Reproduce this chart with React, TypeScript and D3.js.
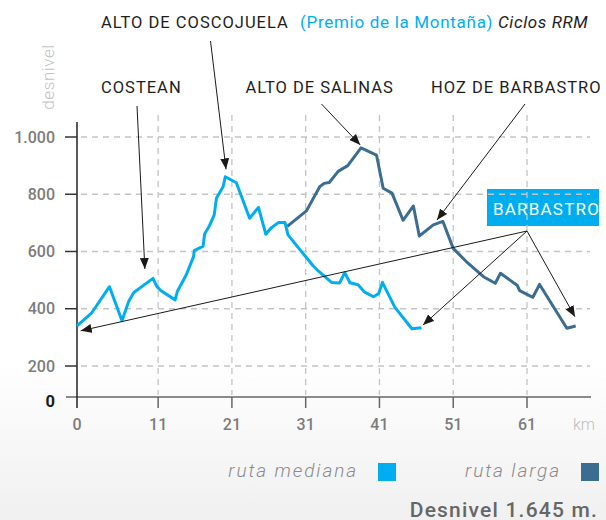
import React, { useEffect, useRef } from 'react';
import * as d3 from 'd3';

// ruta mediana: km / desnivel (m)
const kmMediana = [0, 2, 4.4, 6.1, 7, 7.7, 10.3, 10.8, 11.3, 13.3, 13.6, 14.8, 15.8, 15.9, 17.1, 17.3, 17.9, 18.6, 18.9, 19.8, 20.1, 21.6, 23.4, 24.6, 25.6, 26.3, 27.3, 28.2, 28.6, 32, 32.7, 34.5, 35.6, 36.3, 37, 38.1, 39, 40.2, 40.9, 41.4, 43.1, 45.4, 46.7];
const altMediana = [340, 386, 477, 358, 425, 457, 506, 479, 465, 431, 460, 518, 582, 603, 619, 661, 687, 728, 786, 826, 861, 840, 716, 754, 660, 682, 701, 701, 658, 550, 532, 492, 490, 526, 491, 484, 458, 442, 453, 492, 405, 330, 334];

// ruta larga (branches off the mediana around km 28.5)
const kmLarga = [28.5, 31.1, 32.9, 33.5, 34.2, 35.4, 36.7, 38.5, 40.6, 41.5, 42.7, 44.2, 45.6, 46.4, 48.3, 49.6, 51, 52.8, 55.1, 56.7, 57.4, 59.7, 60, 61.8, 62.7, 66.4, 67.6];
const altLarga = [688, 742, 826, 838, 841, 880, 900, 962, 937, 821, 804, 709, 759, 654, 693, 705, 611, 564, 512, 489, 524, 481, 463, 440, 485, 332, 340];

const kmTicks = [0, 11, 21, 31, 41, 51, 61];
const altTicks = [200, 400, 600, 800, 1000];

// annotated places, arrow tips in km / m
const placeNames = ['COSTEAN', 'ALTO DE COSCOJUELA', 'ALTO DE SALINAS', 'HOZ DE BARBASTRO'];
const placeKm = [9.2, 20.2, 38.4, 48.8];
const placeAlt = [539, 887, 972, 710];

// BARBASTRO arrows: start, meta mediana, meta larga
const barbastroKm = [0.5, 46.9, 67.5];
const barbastroAlt = [323, 343, 372];

const CYAN = '#00aeef';
const DARK = '#3a6d8f';
const FONT = 'Roboto, "DejaVu Sans", sans-serif';

export default function App() {
  const svgRef = useRef<SVGSVGElement>(null);

  useEffect(() => {
    if (!svgRef.current) return;
    const svg = d3.select(svgRef.current);
    svg.selectAll('*').remove();

    const x = d3.scaleLinear().domain([0, 61]).range([77, 527]);
    // broken axis: the 0-200 band is squeezed
    const y = d3.scaleLinear().domain([0, 200, 1000]).range([397, 366, 137]);

    const defs = svg.append('defs');
    const grad = defs.append('linearGradient').attr('id', 'bg').attr('x1', 0).attr('y1', 0).attr('x2', 0).attr('y2', 1);
    grad.append('stop').attr('offset', '0.7').attr('stop-color', '#ffffff');
    grad.append('stop').attr('offset', '1').attr('stop-color', '#f0f0f0');
    defs.append('marker')
      .attr('id', 'arr')
      .attr('viewBox', '0 0 11 9')
      .attr('refX', 11)
      .attr('refY', 4.5)
      .attr('markerWidth', 11)
      .attr('markerHeight', 9)
      .attr('markerUnits', 'userSpaceOnUse')
      .attr('orient', 'auto')
      .append('path')
      .attr('d', 'M0,0L11,4.5L0,9Z')
      .attr('fill', '#1a1a1a');

    svg.append('rect').attr('width', 606).attr('height', 520).attr('fill', 'url(#bg)');

    // BARBASTRO box (grid shows through on top of it)
    svg.append('rect')
      .attr('x', 487).attr('y', 189).attr('width', 112).attr('height', 37)
      .attr('fill', CYAN);

    // grid
    const grid = svg.append('g')
      .attr('stroke', '#c4c4c4')
      .attr('stroke-width', 1.3)
      .attr('stroke-dasharray', '6,5');
    grid.selectAll('line.h')
      .data(altTicks)
      .join('line')
      .attr('class', 'h')
      .attr('x1', 81).attr('x2', 590)
      .attr('y1', d => y(d)).attr('y2', d => y(d));
    grid.selectAll('line.v')
      .data(kmTicks.slice(1))
      .join('line')
      .attr('class', 'v')
      .attr('x1', d => x(d)).attr('x2', d => x(d))
      .attr('y1', 115).attr('y2', 395);

    svg.append('text')
      .attr('x', 493).attr('y', 215)
      .attr('fill', '#fff')
      .attr('font-family', FONT)
      .attr('font-size', 17)
      .attr('font-weight', 400)
      .attr('letter-spacing', 1.2)
      .text('BARBASTRO');

    // axes
    svg.append('line')
      .attr('x1', 66).attr('x2', 591)
      .attr('y1', y(0)).attr('y2', y(0))
      .attr('stroke', '#666').attr('stroke-width', 1.5);
    svg.append('line')
      .attr('x1', x(0)).attr('x2', x(0))
      .attr('y1', 122).attr('y2', 408)
      .attr('stroke', '#222').attr('stroke-width', 1.5);

    svg.append('g')
      .selectAll('line')
      .data(altTicks)
      .join('line')
      .attr('x1', 65).attr('x2', x(0))
      .attr('y1', d => y(d)).attr('y2', d => y(d))
      .attr('stroke', '#333').attr('stroke-width', 1.5);
    svg.append('g')
      .selectAll('line')
      .data(kmTicks.slice(1))
      .join('line')
      .attr('x1', d => x(d)).attr('x2', d => x(d))
      .attr('y1', y(0)).attr('y2', y(0) + 11)
      .attr('stroke', '#666').attr('stroke-width', 1.5);

    svg.append('g')
      .selectAll('text')
      .data(altTicks)
      .join('text')
      .attr('x', 55)
      .attr('y', d => y(d) + 5.7)
      .attr('text-anchor', 'end')
      .attr('fill', '#7c7c7c')
      .attr('font-family', FONT)
      .attr('font-size', 16)
      .attr('font-weight', 500)
      .text(d => d3.format(',')(d).replace(',', '.'));
    svg.append('text')
      .attr('x', 55).attr('y', y(0) + 9.5)
      .attr('text-anchor', 'end')
      .attr('fill', '#1a1a1a')
      .attr('font-family', FONT)
      .attr('font-size', 16.5)
      .attr('font-weight', 700)
      .text('0');

    svg.append('g')
      .selectAll('text')
      .data(kmTicks)
      .join('text')
      .attr('x', d => x(d))
      .attr('y', 429.5)
      .attr('text-anchor', 'middle')
      .attr('fill', '#7c7c7c')
      .attr('font-family', FONT)
      .attr('font-size', 16)
      .attr('font-weight', 500)
      .text(d => d);
    svg.append('text')
      .attr('x', 584).attr('y', 430)
      .attr('text-anchor', 'middle')
      .attr('fill', '#bdbdbd')
      .attr('font-family', FONT)
      .attr('font-size', 16)
      .attr('font-weight', 300)
      .text('km');
    svg.append('text')
      .attr('transform', 'translate(54,77) rotate(-90)')
      .attr('text-anchor', 'middle')
      .attr('fill', '#c2c2c2')
      .attr('font-family', FONT)
      .attr('font-size', 17)
      .attr('font-weight', 300)
      .attr('letter-spacing', 0.6)
      .text('desnivel');

    // profiles
    const line = d3.line<[number, number]>()
      .x(d => x(d[0]))
      .y(d => y(d[1]));
    const mediana = kmMediana.map((k, i) => [k, altMediana[i]] as [number, number]);
    const larga = kmLarga.map((k, i) => [k, altLarga[i]] as [number, number]);

    svg.append('path')
      .datum(larga)
      .attr('fill', 'none')
      .attr('stroke', DARK)
      .attr('stroke-width', 3)
      .attr('stroke-linejoin', 'round')
      .attr('d', line);
    svg.append('path')
      .datum(mediana)
      .attr('fill', 'none')
      .attr('stroke', CYAN)
      .attr('stroke-width', 3)
      .attr('stroke-linejoin', 'round')
      .attr('d', line);

    // place labels + arrows
    const labelX = [101, 101, 245.5, 431];
    const labelY = [92.5, 27.5, 92.5, 92.5];
    const fromX = [137, 210.5, 321.5, 525];
    const fromY = [106, 41, 104, 104];

    const ann = svg.append('g');
    placeNames.forEach((name, i) => {
      ann.append('text')
        .attr('x', labelX[i]).attr('y', labelY[i])
        .attr('fill', '#1e1e1e')
        .attr('font-family', FONT)
        .attr('font-size', 16.5)
        .attr('font-weight', 400)
        .attr('letter-spacing', 1)
        .text(name);
      ann.append('line')
        .attr('x1', fromX[i]).attr('y1', fromY[i])
        .attr('x2', x(placeKm[i])).attr('y2', y(placeAlt[i]))
        .attr('stroke', '#1a1a1a').attr('stroke-width', 1)
        .attr('marker-end', 'url(#arr)');
    });
    barbastroKm.forEach((k, i) => {
      ann.append('line')
        .attr('x1', 527).attr('y1', 231)
        .attr('x2', x(k)).attr('y2', y(barbastroAlt[i]))
        .attr('stroke', '#1a1a1a').attr('stroke-width', 1)
        .attr('marker-end', 'url(#arr)');
    });

    ann.append('text')
      .attr('x', 300).attr('y', 27.5)
      .attr('fill', CYAN)
      .attr('font-family', FONT)
      .attr('font-size', 17)
      .attr('letter-spacing', 0.7)
      .text('(Premio de la Montaña)');
    ann.append('text')
      .attr('x', 498).attr('y', 27.5)
      .attr('fill', '#1e1e1e')
      .attr('font-family', FONT)
      .attr('font-size', 17)
      .attr('font-style', 'italic')
      .attr('letter-spacing', 0.6)
      .text('Ciclos RRM');

    // legend
    const legendNames = ['ruta mediana', 'ruta larga'];
    const legendColors = [CYAN, DARK];
    const legendRight = [358, 561];
    const legendBox = [378, 581];
    legendNames.forEach((name, i) => {
      svg.append('text')
        .attr('x', legendRight[i]).attr('y', 477)
        .attr('text-anchor', 'end')
        .attr('fill', '#8a8a8a')
        .attr('font-family', FONT)
        .attr('font-size', 19)
        .attr('font-weight', 300)
        .attr('font-style', 'italic')
        .attr('letter-spacing', 1.9)
        .text(name);
      svg.append('rect')
        .attr('x', legendBox[i]).attr('y', 463)
        .attr('width', 18).attr('height', 18)
        .attr('fill', legendColors[i]);
    });

    svg.append('text')
      .attr('x', 598).attr('y', 516.5)
      .attr('text-anchor', 'end')
      .attr('fill', '#666')
      .attr('font-family', FONT)
      .attr('font-size', 21)
      .attr('font-weight', 500)
      .attr('letter-spacing', 1.2)
      .text('Desnivel 1.645 m.');
  }, []);

  return (
    <div style={{ position: 'absolute', left: 0, top: 0 }}>
      <svg ref={svgRef} width={606} height={520} style={{ display: 'block' }} />
    </div>
  );
}
